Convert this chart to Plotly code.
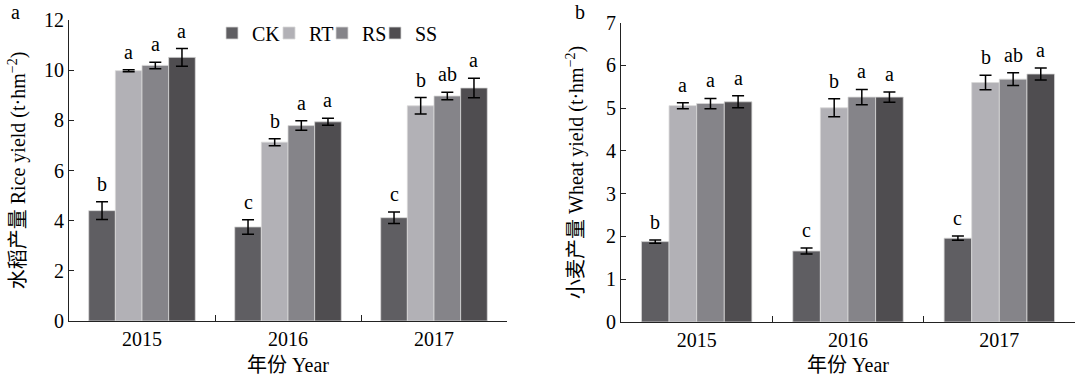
import plotly.graph_objects as go

years = ["2015", "2016", "2017"]
treatments = ["CK", "RT", "RS", "SS"]
colors = ["#5f5e62", "#b2b1b6", "#858489", "#4f4d50"]

rice_yield = {
    "CK": [4.40, 3.75, 4.12],
    "RT": [9.98, 7.13, 8.58],
    "RS": [10.19, 7.79, 8.97],
    "SS": [10.51, 7.94, 9.29],
}
rice_err = {
    "CK": [0.35, 0.29, 0.23],
    "RT": [0.04, 0.14, 0.33],
    "RS": [0.13, 0.19, 0.15],
    "SS": [0.35, 0.14, 0.39],
}
rice_letters = {
    "CK": ["b", "c", "c"],
    "RT": ["a", "b", "b"],
    "RS": ["a", "a", "ab"],
    "SS": ["a", "a", "a"],
}

wheat_yield = {
    "CK": [1.88, 1.66, 1.96],
    "RT": [5.06, 5.01, 5.60],
    "RS": [5.11, 5.26, 5.68],
    "SS": [5.15, 5.26, 5.80],
}
wheat_err = {
    "CK": [0.04, 0.07, 0.05],
    "RT": [0.07, 0.21, 0.17],
    "RS": [0.12, 0.18, 0.15],
    "SS": [0.14, 0.12, 0.14],
}
wheat_letters = {
    "CK": ["b", "c", "c"],
    "RT": ["a", "b", "b"],
    "RS": ["a", "a", "ab"],
    "SS": ["a", "a", "a"],
}

FONT = "Liberation Serif, Noto Sans CJK SC"
CJK = "Noto Sans CJK SC"
BARGAP = 0.27
legend_ids = ["legend", "legend2", "legend3", "legend4"]
legend_x_px = [212, 269, 322, 375]


def cjk(s):
    return f"<span style='font-family:{CJK}'>{s}</span>"


fig = go.Figure()

for k, t in enumerate(treatments):
    fig.add_trace(go.Bar(
        x=years, y=rice_yield[t], name=t, marker_color=colors[k],
        marker_line=dict(color="#d8d8d8", width=0.8),
        error_y=dict(type="data", array=rice_err[t], color="black", thickness=1.5, width=6),
        xaxis="x", yaxis="y", legendgroup=t, showlegend=True, legend=legend_ids[k],
    ))
for k, t in enumerate(treatments):
    fig.add_trace(go.Bar(
        x=years, y=wheat_yield[t], name=t, marker_color=colors[k],
        marker_line=dict(color="#d8d8d8", width=0.8),
        error_y=dict(type="data", array=wheat_err[t], color="black", thickness=1.5, width=6),
        xaxis="x2", yaxis="y2", legendgroup=t, showlegend=False,
    ))

# significance letters
w = (1 - BARGAP) / len(treatments)
annotations = []
for k, t in enumerate(treatments):
    off = (k - (len(treatments) - 1) / 2) * w
    for i in range(len(years)):
        annotations.append(dict(
            x=i + off, y=rice_yield[t][i] + rice_err[t][i], xref="x", yref="y",
            text=rice_letters[t][i], showarrow=False, yanchor="bottom", yshift=5,
            font=dict(family=FONT, size=20, color="black"),
        ))
        annotations.append(dict(
            x=i + off, y=wheat_yield[t][i] + wheat_err[t][i], xref="x2", yref="y2",
            text=wheat_letters[t][i], showarrow=False, yanchor="bottom", yshift=5,
            font=dict(family=FONT, size=20, color="black"),
        ))

annotations.append(dict(x=15 / 1075, y=1 - 12 / 378, xref="paper", yref="paper",
                        xanchor="center", yanchor="middle",
                        text="a", showarrow=False, font=dict(family=FONT, size=20, color="black")))
annotations.append(dict(x=580 / 1075, y=1 - 12 / 378, xref="paper", yref="paper",
                        xanchor="center", yanchor="middle",
                        text="b", showarrow=False, font=dict(family=FONT, size=20, color="black")))

axis_common = dict(
    showline=True, linecolor="#222", linewidth=1.2, showgrid=False, zeroline=False,
    tickfont=dict(family=FONT, size=20, color="black"), tickcolor="#222",
    automargin=False,
)

legends = {}
for k, lid in enumerate(legend_ids):
    legends[lid] = dict(orientation="h", x=legend_x_px[k] / 1075, y=1 - 33 / 378,
                        xanchor="left", yanchor="middle",
                        font=dict(family=FONT, size=20, color="black"),
                        bgcolor="rgba(0,0,0,0)", itemwidth=30)

fig.update_layout(
    template="none",
    width=1075, height=378,
    margin=dict(l=0, r=0, t=0, b=0, pad=0),
    paper_bgcolor="white", plot_bgcolor="white",
    barmode="group", bargap=BARGAP, bargroupgap=0,
    font=dict(family=FONT, size=20, color="black"),
    showlegend=True,
    xaxis=dict(domain=[69 / 1075, 507 / 1075], type="category", anchor="y",
               ticks="inside", tickson="boundaries", ticklen=6,
               title=dict(text=cjk("年份") + " Year", font=dict(family=FONT, size=20), standoff=4),
               **axis_common),
    yaxis=dict(domain=[1 - 321 / 378, 1 - 20 / 378], range=[0, 12], dtick=2, anchor="x",
               ticks="inside", ticklen=5,
               title=dict(text=cjk("水稻产量") + " Rice yield (t·hm<sup>−2</sup>)",
                          font=dict(family=FONT, size=20), standoff=12),
               **axis_common),
    xaxis2=dict(domain=[621 / 1075, 1.0], type="category", anchor="y2",
                ticks="inside", tickson="boundaries", ticklen=6,
                title=dict(text=cjk("年份") + " Year", font=dict(family=FONT, size=20), standoff=4),
                **axis_common),
    yaxis2=dict(domain=[1 - 322 / 378, 1 - 22.7 / 378], range=[0, 7], dtick=1, anchor="x2",
                ticks="inside", ticklen=5,
                title=dict(text=cjk("小麦产量") + " Wheat yield (t·hm<sup>−2</sup>)",
                           font=dict(family=FONT, size=20), standoff=16),
                **axis_common),
    annotations=annotations,
    **legends,
)

fig.write_html("out.html",
               config={"displayModeBar": False},
               post_script="document.body.style.margin='0';document.body.style.overflow='hidden';")
